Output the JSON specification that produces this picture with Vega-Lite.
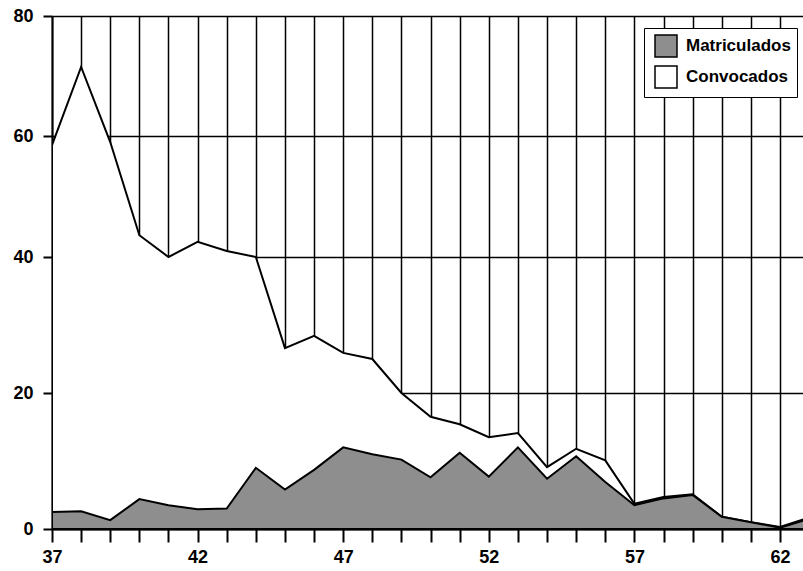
{
  "$schema": "https://vega.github.io/schema/vega-lite/v6.json",
  "width": 751,
  "height": 513,
  "autosize": {"type": "none"},
  "padding": {"left": 52, "top": 16, "right": 0, "bottom": 42},
  "background": "white",
  "config": {"view": {"stroke": null}, "font": "Liberation Sans"},
  "data": {
    "values": [
      {"year": 37, "serie": "Convocados", "n": 58.5},
      {"year": 38, "serie": "Convocados", "n": 71.5},
      {"year": 39, "serie": "Convocados", "n": 59},
      {"year": 40, "serie": "Convocados", "n": 43.6},
      {"year": 41, "serie": "Convocados", "n": 40},
      {"year": 42, "serie": "Convocados", "n": 42.5},
      {"year": 43, "serie": "Convocados", "n": 41},
      {"year": 44, "serie": "Convocados", "n": 40},
      {"year": 45, "serie": "Convocados", "n": 26.6},
      {"year": 46, "serie": "Convocados", "n": 28.4},
      {"year": 47, "serie": "Convocados", "n": 25.9},
      {"year": 48, "serie": "Convocados", "n": 25},
      {"year": 49, "serie": "Convocados", "n": 20},
      {"year": 50, "serie": "Convocados", "n": 16.5},
      {"year": 51, "serie": "Convocados", "n": 15.4},
      {"year": 52, "serie": "Convocados", "n": 13.5},
      {"year": 53, "serie": "Convocados", "n": 14.1},
      {"year": 54, "serie": "Convocados", "n": 9.1},
      {"year": 55, "serie": "Convocados", "n": 11.8},
      {"year": 56, "serie": "Convocados", "n": 10.1},
      {"year": 57, "serie": "Convocados", "n": 3.7},
      {"year": 58, "serie": "Convocados", "n": 4.7},
      {"year": 59, "serie": "Convocados", "n": 5.1},
      {"year": 60, "serie": "Convocados", "n": 1.8},
      {"year": 61, "serie": "Convocados", "n": 1.0},
      {"year": 62, "serie": "Convocados", "n": 0.3},
      {"year": 63, "serie": "Convocados", "n": 1.7},
      {"year": 37, "serie": "Matriculados", "n": 2.5},
      {"year": 38, "serie": "Matriculados", "n": 2.6},
      {"year": 39, "serie": "Matriculados", "n": 1.3},
      {"year": 40, "serie": "Matriculados", "n": 4.4},
      {"year": 41, "serie": "Matriculados", "n": 3.5},
      {"year": 42, "serie": "Matriculados", "n": 2.9},
      {"year": 43, "serie": "Matriculados", "n": 3.0},
      {"year": 44, "serie": "Matriculados", "n": 9.0},
      {"year": 45, "serie": "Matriculados", "n": 5.8},
      {"year": 46, "serie": "Matriculados", "n": 8.7},
      {"year": 47, "serie": "Matriculados", "n": 12},
      {"year": 48, "serie": "Matriculados", "n": 11},
      {"year": 49, "serie": "Matriculados", "n": 10.2},
      {"year": 50, "serie": "Matriculados", "n": 7.6},
      {"year": 51, "serie": "Matriculados", "n": 11.2},
      {"year": 52, "serie": "Matriculados", "n": 7.7},
      {"year": 53, "serie": "Matriculados", "n": 12},
      {"year": 54, "serie": "Matriculados", "n": 7.4},
      {"year": 55, "serie": "Matriculados", "n": 10.7},
      {"year": 56, "serie": "Matriculados", "n": 6.9},
      {"year": 57, "serie": "Matriculados", "n": 3.5},
      {"year": 58, "serie": "Matriculados", "n": 4.5},
      {"year": 59, "serie": "Matriculados", "n": 5.0},
      {"year": 60, "serie": "Matriculados", "n": 1.8},
      {"year": 61, "serie": "Matriculados", "n": 1.0},
      {"year": 62, "serie": "Matriculados", "n": 0.2},
      {"year": 63, "serie": "Matriculados", "n": 1.5}
    ]
  },
  "encoding": {
    "x": {
      "field": "year",
      "type": "quantitative",
      "scale": {"domain": [37, 62.79], "nice": false, "zero": false},
      "axis": {
        "title": null,
        "values": [37, 38, 39, 40, 41, 42, 43, 44, 45, 46, 47, 48, 49, 50, 51, 52, 53, 54, 55, 56, 57, 58, 59, 60, 61, 62],
        "format": "d",
        "labelExpr": "datum.value % 5 == 2 ? datum.label : ''",
        "labelFlush": false,
        "labelOverlap": false,
        "grid": true,
        "gridColor": "black",
        "gridOpacity": 1,
        "gridWidth": 1.5,
        "domainColor": "black",
        "domainWidth": 2,
        "ticks": true,
        "tickColor": "black",
        "tickOpacity": 1,
        "tickWidth": 2,
        "tickSize": 13,
        "labelFont": "Liberation Sans",
        "labelFontSize": 18,
        "labelFontWeight": "bold",
        "labelColor": "black",
        "labelPadding": 6
      }
    },
    "y": {
      "field": "n",
      "type": "quantitative",
      "stack": null,
      "scale": {"domain": [0, 20, 40, 60, 80], "range": [513, 377, 241, 120, 0], "nice": false},
      "axis": {
        "title": null,
        "values": [0, 20, 40, 60, 80],
        "grid": true,
        "gridColor": "black",
        "gridOpacity": 1,
        "gridWidth": 1.5,
        "domainColor": "black",
        "domainWidth": 2,
        "ticks": true,
        "tickColor": "black",
        "tickOpacity": 1,
        "tickWidth": 2,
        "tickSize": 9,
        "labelFont": "Liberation Sans",
        "labelFontSize": 18,
        "labelFontWeight": "bold",
        "labelColor": "black",
        "labelPadding": 10
      }
    },
    "color": {
      "field": "serie",
      "type": "nominal",
      "scale": {"domain": ["Matriculados", "Convocados"], "range": ["#8e8e8e", "#ffffff"]},
      "legend": {
        "title": null,
        "orient": "none",
        "legendX": 592,
        "legendY": 12,
        "symbolType": "square",
        "symbolSize": 484,
        "symbolStrokeColor": "black",
        "symbolStrokeWidth": 1.5,
        "symbolOpacity": 1,
        "labelFont": "Liberation Sans",
        "labelFontSize": 17,
        "labelFontWeight": "bold",
        "labelColor": "black",
        "labelOffset": 8,
        "fillColor": "white",
        "strokeColor": "black",
        "padding": 6,
        "rowPadding": 3,
        "symbolOffset": 4
      }
    }
  },
  "layer": [
    {
      "transform": [{"filter": "datum.serie == 'Convocados'"}],
      "mark": {"type": "area", "stroke": "black", "strokeWidth": 2, "clip": true, "opacity": 1, "fillOpacity": 1}
    },
    {
      "transform": [{"filter": "datum.serie == 'Matriculados'"}],
      "mark": {"type": "area", "stroke": "black", "strokeWidth": 2, "clip": true, "opacity": 1, "fillOpacity": 1}
    }
  ]
}
